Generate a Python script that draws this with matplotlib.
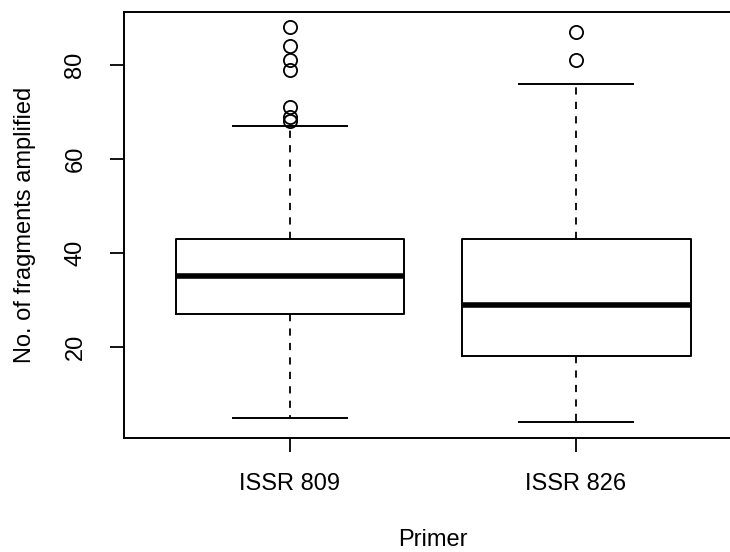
import matplotlib
matplotlib.use("Agg")
import matplotlib.pyplot as plt

plt.rcParams['font.family'] = ['Liberation Sans', 'DejaVu Sans']

# values
primers = ['ISSR 809', 'ISSR 826']
q1 = [27, 18]
medians = [35, 29]
q3 = [43, 43]
whisker_low = [5, 4]
whisker_high = [67, 76]
outliers = [
    [88, 84, 81, 79, 71, 69, 68],
    [87, 81],
]

stats = []
for i, name in enumerate(primers):
    stats.append({
        'label': name,
        'q1': q1[i],
        'med': medians[i],
        'q3': q3[i],
        'whislo': whisker_low[i],
        'whishi': whisker_high[i],
        'fliers': outliers[i],
    })

fig = plt.figure(figsize=(7.3, 5.52), dpi=100)
ax = fig.add_axes([124 / 730, 1 - 438 / 552, 618 / 730, 426.5 / 552])

ax.bxp(
    stats,
    positions=[1, 2],
    widths=0.8,
    capwidths=0.4,
    boxprops={'color': 'black', 'linewidth': 1.4},
    medianprops={'color': 'black', 'linewidth': 4},
    whiskerprops={'color': 'black', 'linewidth': 1.3, 'linestyle': (0, (4, 4))},
    capprops={'color': 'black', 'linewidth': 1.4},
    flierprops={'marker': 'o', 'markersize': 9.5, 'markerfacecolor': 'none',
                'markeredgecolor': 'black', 'markeredgewidth': 1.3},
)

ax.set_xlim(0.42, 2.58)
ax.set_ylim(0.64, 91.36)
ax.set_yticks([20, 40, 60, 80])
ax.set_xticks([1, 2])
ax.set_xticklabels(primers)

for s in ax.spines.values():
    s.set_linewidth(1.4)

ax.tick_params(axis='both', direction='out', length=10, width=1.3, labelsize=17)
ax.tick_params(axis='x', pad=15)
ax.tick_params(axis='y', pad=17)
for lab in ax.get_yticklabels():
    lab.set_rotation(90)
    lab.set_verticalalignment('center')

ax.set_xlabel('Primer', fontsize=17)
ax.set_ylabel('No. of fragments amplified', fontsize=17)
ax.xaxis.set_label_coords(0.5, -(540 - 438) / 426.5)
ax.yaxis.set_label_coords(-(124 - 25) / 618, 0.5)
ax.xaxis.label.set_verticalalignment('center')
ax.yaxis.label.set_verticalalignment('center')

fig.savefig('out.png', dpi=100)
